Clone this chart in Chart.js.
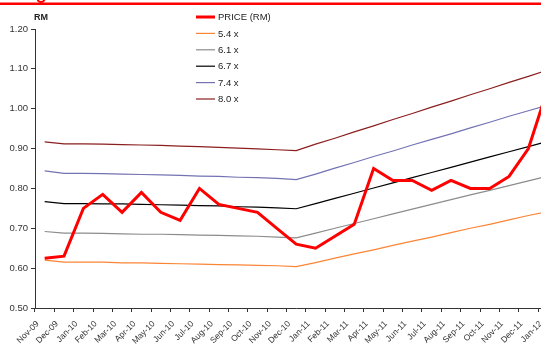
<!DOCTYPE html>
<html>
<head>
<meta charset="utf-8">
<script src="https://cdn.jsdelivr.net/npm/chart.js@4.4.1/dist/chart.umd.min.js"></script>
<style>
  html, body { margin: 0; padding: 0; background: #fff; overflow: hidden; }
  #wrap { width: 541px; height: 351px; overflow: hidden; position: relative; }
  canvas { display: block; }
</style>
</head>
<body>
<div id="wrap"><canvas id="c" width="562" height="351"></canvas></div>
<script>
// Monthly categories, Nov-09 to Jan-12
const months = ["Nov-09","Dec-09","Jan-10","Feb-10","Mar-10","Apr-10","May-10","Jun-10","Jul-10","Aug-10","Sep-10","Oct-10","Nov-10","Dec-10",
  "Jan-11","Feb-11","Mar-11","Apr-11","May-11","Jun-11","Jul-11","Aug-11","Sep-11","Oct-11","Nov-11","Dec-11","Jan-12"];

// Share price (RM)
const price = [0.625,0.63,0.75,0.785,0.74,0.79,0.74,0.72,0.80,0.76,0.75,0.74,0.70,0.66,
  0.65,0.68,0.71,0.85,0.82,0.82,0.795,0.82,0.80,0.80,0.83,0.90,1.05];

// PER band lines
const per54 = [0.620,0.615,0.615,0.615,0.613,0.613,0.612,0.611,0.610,0.609,0.608,0.607,0.606,0.604,
  0.614,0.625,0.636,0.646,0.657,0.668,0.678,0.689,0.700,0.710,0.721,0.732,0.742];
const per61 = [0.692,0.688,0.688,0.687,0.686,0.685,0.685,0.684,0.683,0.682,0.681,0.680,0.678,0.676,
  0.688,0.700,0.712,0.724,0.736,0.748,0.760,0.772,0.784,0.795,0.807,0.819,0.831];
const per67 = [0.767,0.762,0.762,0.761,0.761,0.760,0.759,0.758,0.757,0.756,0.754,0.753,0.751,0.749,
  0.762,0.775,0.788,0.801,0.814,0.827,0.840,0.853,0.866,0.879,0.892,0.905,0.918];
const per74 = [0.844,0.838,0.838,0.837,0.836,0.835,0.834,0.833,0.831,0.830,0.828,0.827,0.825,0.822,
  0.836,0.851,0.865,0.880,0.894,0.909,0.923,0.937,0.952,0.966,0.981,0.995,1.009];
const per80 = [0.917,0.912,0.912,0.911,0.910,0.909,0.908,0.906,0.905,0.903,0.901,0.899,0.897,0.895,
  0.911,0.926,0.942,0.957,0.973,0.988,1.004,1.019,1.035,1.050,1.066,1.081,1.097];

// Y-axis range and step
const yMin = 0.5, yMax = 1.2, yStep = 0.1;

const FONT = "'Liberation Sans', Arial, sans-serif";

function line(label, data, color, width) {
  return { label, data, borderColor: color, backgroundColor: color, borderWidth: width,
           pointRadius: 0, tension: 0, fill: false };
}

// Header rule and the "RM" unit caption
const decor = {
  id: 'decor',
  beforeDraw(chart) {
    const ctx = chart.ctx;
    ctx.save();
    ctx.fillStyle = '#ff0000';
    ctx.fillRect(0, 2.5, chart.width, 2.5);
    ctx.strokeStyle = '#ff0000';
    ctx.lineWidth = 2;
    ctx.beginPath();
    ctx.arc(41, -1.5, 3.5, 0, Math.PI);
    ctx.stroke();
    ctx.fillStyle = '#222';
    ctx.font = "bold 9px " + FONT;
    ctx.textBaseline = 'middle';
    ctx.textAlign = 'left';
    ctx.fillText('RM', 34, 18);
    ctx.restore();
  }
};

// Legend drawn inside the plot, stacked
const bandLegend = {
  id: 'bandLegend',
  afterDraw(chart) {
    const ctx = chart.ctx;
    const x0 = 196, x1 = 215, tx = 218, y0 = 17, dy = 16.4;
    ctx.save();
    ctx.font = "9.5px " + FONT;
    ctx.textBaseline = 'middle';
    ctx.textAlign = 'left';
    chart.data.datasets.forEach((ds, i) => {
      const y = y0 + i * dy;
      ctx.strokeStyle = ds.borderColor;
      ctx.lineWidth = ds.borderWidth;
      ctx.beginPath();
      ctx.moveTo(x0, y);
      ctx.lineTo(x1, y);
      ctx.stroke();
      ctx.fillStyle = '#222';
      ctx.fillText(ds.label, tx, y + 0.5);
    });
    ctx.restore();
  }
};

new Chart(document.getElementById('c'), {
  type: 'line',
  data: {
    labels: months,
    datasets: [
      line('PRICE (RM)', price, '#ff0000', 3),
      line('5.4 x', per54, '#fb8536', 1.2),
      line('6.1 x', per61, '#8c8c8c', 1.2),
      line('6.7 x', per67, '#000000', 1.2),
      line('7.4 x', per74, '#7373b4', 1.2),
      line('8.0 x', per80, '#8b1f1f', 1.2)
    ]
  },
  options: {
    responsive: false,
    animation: false,
    devicePixelRatio: 1,
    layout: { padding: { top: 29, left: 0, right: 2, bottom: 0 } },
    plugins: { legend: { display: false }, tooltip: { enabled: false } },
    scales: {
      x: {
        type: 'category',
        offset: true,
        grid: { display: true, offset: true, drawOnChartArea: false, drawTicks: true, tickLength: 4, color: '#333' },
        border: { display: true, color: '#333', width: 1 },
        ticks: { autoSkip: false, minRotation: 45, maxRotation: 45, padding: 7, labelOffset: -7,
                 color: '#333', font: { family: FONT, size: 8.5 } },
        afterFit(s) { s.height = 43; }
      },
      y: {
        min: yMin, max: yMax,
        grid: { display: true, drawOnChartArea: false, drawTicks: true, tickLength: 4, color: '#333' },
        border: { display: true, color: '#333', width: 1 },
        ticks: { stepSize: yStep, padding: 3, color: '#333', font: { family: FONT, size: 9.5 },
                 callback: v => Number(v).toFixed(2) },
        afterFit(s) { s.width = 35; }
      }
    }
  },
  plugins: [decor, bandLegend]
});
</script>
</body>
</html>
